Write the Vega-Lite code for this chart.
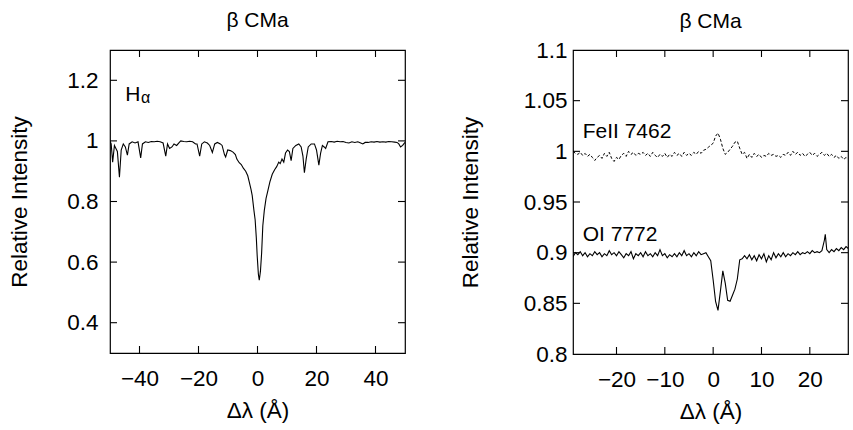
{
  "$schema": "https://vega.github.io/schema/vega-lite/v6.json",
  "padding": {"left": 8, "top": 9, "right": 0, "bottom": 0},
  "spacing": 51,
  "config": {
    "font": "Liberation Sans",
    "view": {"stroke": "#000", "strokeWidth": 1.2},
    "axis": {"domain": false, "grid": false, "ticks": false, "labelFont": "Liberation Sans", "labelFontSize": 22.5, "labelColor": "#000", "labelPadding": 12, "labelOverlap": false, "titleFont": "Liberation Sans", "titleFontSize": 22.5, "titleFontWeight": "normal", "titleColor": "#000", "format": "~r"},
    "title": {"font": "Liberation Sans", "fontSize": 21, "fontWeight": "normal", "color": "#000"},
    "rule": {"color": "#000", "strokeWidth": 1.1}
  },
  "datasets": {
    "ha": [{"x":-50,"y":1.0},{"x":-49.6,"y":0.99},{"x":-49.1,"y":0.93},{"x":-48.5,"y":0.985},{"x":-48,"y":0.975},{"x":-47.5,"y":0.965},{"x":-46.8,"y":0.88},{"x":-46.2,"y":0.97},{"x":-45.5,"y":0.99},{"x":-44.8,"y":0.98},{"x":-44.1,"y":0.953},{"x":-43.5,"y":0.99},{"x":-42.5,"y":0.997},{"x":-41.5,"y":0.993},{"x":-40.5,"y":0.997},{"x":-39.6,"y":0.944},{"x":-39,"y":0.99},{"x":-38,"y":0.997},{"x":-37,"y":0.995},{"x":-36,"y":0.998},{"x":-35,"y":0.997},{"x":-34,"y":0.999},{"x":-33,"y":0.997},{"x":-32,"y":0.993},{"x":-31.1,"y":0.95},{"x":-30.5,"y":0.99},{"x":-29.8,"y":0.975},{"x":-29,"y":0.98},{"x":-28.3,"y":0.99},{"x":-27.4,"y":0.985},{"x":-26.5,"y":0.995},{"x":-26,"y":1.0},{"x":-25,"y":0.998},{"x":-24,"y":0.997},{"x":-23,"y":0.999},{"x":-22,"y":0.997},{"x":-21,"y":0.99},{"x":-20.5,"y":0.99},{"x":-19.6,"y":0.95},{"x":-18.9,"y":0.99},{"x":-18,"y":0.997},{"x":-17,"y":0.993},{"x":-16.2,"y":0.985},{"x":-15.3,"y":0.962},{"x":-14.5,"y":0.99},{"x":-13.6,"y":0.995},{"x":-12.6,"y":0.99},{"x":-12,"y":0.985},{"x":-11.2,"y":0.955},{"x":-10.8,"y":0.947},{"x":-10.1,"y":0.97},{"x":-9.2,"y":0.968},{"x":-8.3,"y":0.963},{"x":-7.5,"y":0.955},{"x":-7,"y":0.94},{"x":-6.2,"y":0.928},{"x":-5.5,"y":0.922},{"x":-4.8,"y":0.91},{"x":-4,"y":0.9},{"x":-3.3,"y":0.885},{"x":-2.8,"y":0.865},{"x":-2.2,"y":0.84},{"x":-1.8,"y":0.82},{"x":-1.2,"y":0.77},{"x":-0.8,"y":0.74},{"x":-0.4,"y":0.68},{"x":-0.1,"y":0.62},{"x":0.3,"y":0.56},{"x":0.6,"y":0.54},{"x":1.0,"y":0.57},{"x":1.4,"y":0.63},{"x":1.8,"y":0.72},{"x":2.3,"y":0.77},{"x":2.9,"y":0.81},{"x":3.5,"y":0.835},{"x":4.2,"y":0.865},{"x":5.0,"y":0.89},{"x":5.8,"y":0.905},{"x":6.5,"y":0.915},{"x":7.2,"y":0.93},{"x":7.7,"y":0.925},{"x":8.3,"y":0.94},{"x":8.9,"y":0.93},{"x":9.5,"y":0.96},{"x":10.2,"y":0.97},{"x":10.8,"y":0.965},{"x":11.4,"y":0.935},{"x":12.0,"y":0.975},{"x":13.0,"y":0.985},{"x":14.0,"y":0.99},{"x":14.8,"y":0.98},{"x":15.4,"y":0.95},{"x":15.9,"y":0.895},{"x":16.5,"y":0.94},{"x":17.2,"y":0.98},{"x":18.2,"y":0.99},{"x":19.3,"y":0.99},{"x":20.0,"y":0.97},{"x":20.8,"y":0.92},{"x":21.4,"y":0.96},{"x":22.0,"y":0.985},{"x":22.6,"y":0.98},{"x":23.1,"y":0.975},{"x":23.9,"y":0.997},{"x":25,"y":0.998},{"x":26,"y":0.996},{"x":27,"y":0.999},{"x":28,"y":0.997},{"x":29,"y":0.998},{"x":30,"y":0.995},{"x":31,"y":0.993},{"x":32,"y":0.997},{"x":33,"y":0.995},{"x":34,"y":0.997},{"x":35,"y":0.993},{"x":35.7,"y":0.99},{"x":36.5,"y":0.995},{"x":37.5,"y":0.995},{"x":38.5,"y":0.997},{"x":39.5,"y":0.996},{"x":40.5,"y":0.998},{"x":41.5,"y":0.996},{"x":42.5,"y":0.997},{"x":43.5,"y":0.996},{"x":44.5,"y":0.998},{"x":45.5,"y":0.997},{"x":46.5,"y":0.996},{"x":47.3,"y":0.995},{"x":47.9,"y":0.99},{"x":48.5,"y":0.98},{"x":49.2,"y":0.985},{"x":50,"y":0.995}],
    "fe": [{"x":-29,"y":1.0},{"x":-28.5,"y":0.998},{"x":-28,"y":0.997},{"x":-27.5,"y":0.999},{"x":-27,"y":0.996},{"x":-26.5,"y":0.998},{"x":-26,"y":0.995},{"x":-25.5,"y":0.997},{"x":-25,"y":0.994},{"x":-24.5,"y":0.991},{"x":-24,"y":0.994},{"x":-23.5,"y":0.996},{"x":-23,"y":0.993},{"x":-22.5,"y":0.998},{"x":-22,"y":0.995},{"x":-21.5,"y":0.999},{"x":-21,"y":0.993},{"x":-20.5,"y":0.99},{"x":-20,"y":0.994},{"x":-19.5,"y":0.992},{"x":-19,"y":0.996},{"x":-18.5,"y":0.998},{"x":-18,"y":0.995},{"x":-17.5,"y":1.0},{"x":-17,"y":0.997},{"x":-16.5,"y":0.999},{"x":-16,"y":0.996},{"x":-15.5,"y":0.998},{"x":-15,"y":0.997},{"x":-14.5,"y":0.999},{"x":-14,"y":0.996},{"x":-13.5,"y":0.998},{"x":-13,"y":0.995},{"x":-12.5,"y":0.999},{"x":-12,"y":0.996},{"x":-11.5,"y":0.994},{"x":-11,"y":0.997},{"x":-10.5,"y":0.995},{"x":-10,"y":0.998},{"x":-9.5,"y":0.994},{"x":-9,"y":0.997},{"x":-8.5,"y":0.995},{"x":-8,"y":0.999},{"x":-7.5,"y":0.996},{"x":-7,"y":0.998},{"x":-6.5,"y":0.995},{"x":-6,"y":0.999},{"x":-5.5,"y":0.996},{"x":-5,"y":0.998},{"x":-4.5,"y":0.996},{"x":-4,"y":0.999},{"x":-3.5,"y":0.997},{"x":-3,"y":1.0},{"x":-2.5,"y":0.998},{"x":-2,"y":1.001},{"x":-1.5,"y":1.002},{"x":-1,"y":1.004},{"x":-0.5,"y":1.006},{"x":0,"y":1.008},{"x":0.5,"y":1.015},{"x":1,"y":1.018},{"x":1.5,"y":1.012},{"x":2,"y":1.003},{"x":2.5,"y":0.997},{"x":3,"y":0.999},{"x":3.5,"y":1.002},{"x":4,"y":1.005},{"x":4.5,"y":1.009},{"x":5,"y":1.01},{"x":5.5,"y":1.003},{"x":6,"y":0.997},{"x":6.5,"y":0.999},{"x":7,"y":0.993},{"x":7.5,"y":0.997},{"x":8,"y":0.994},{"x":8.5,"y":0.998},{"x":9,"y":0.995},{"x":9.5,"y":0.997},{"x":10,"y":0.994},{"x":10.5,"y":0.996},{"x":11,"y":0.995},{"x":11.5,"y":0.998},{"x":12,"y":0.996},{"x":12.5,"y":0.997},{"x":13,"y":0.995},{"x":13.5,"y":0.996},{"x":14,"y":0.994},{"x":14.5,"y":0.997},{"x":15,"y":0.996},{"x":15.5,"y":0.999},{"x":16,"y":0.996},{"x":16.5,"y":1.0},{"x":17,"y":0.997},{"x":17.5,"y":0.999},{"x":18,"y":0.996},{"x":18.5,"y":0.998},{"x":19,"y":0.995},{"x":19.5,"y":0.997},{"x":20,"y":0.999},{"x":20.5,"y":0.996},{"x":21,"y":0.998},{"x":21.5,"y":0.995},{"x":22,"y":0.997},{"x":22.5,"y":0.999},{"x":23,"y":0.996},{"x":23.5,"y":0.998},{"x":24,"y":0.995},{"x":24.5,"y":0.997},{"x":25,"y":0.994},{"x":25.5,"y":0.996},{"x":26,"y":0.993},{"x":26.5,"y":0.995},{"x":27,"y":0.992},{"x":27.5,"y":0.994},{"x":28,"y":0.992}],
    "oi": [{"x":-29,"y":0.896},{"x":-28.5,"y":0.9},{"x":-28,"y":0.898},{"x":-27.5,"y":0.901},{"x":-27,"y":0.897},{"x":-26.5,"y":0.9},{"x":-26,"y":0.896},{"x":-25.5,"y":0.899},{"x":-25,"y":0.897},{"x":-24.5,"y":0.901},{"x":-24,"y":0.898},{"x":-23.5,"y":0.9},{"x":-23,"y":0.896},{"x":-22.5,"y":0.899},{"x":-22,"y":0.897},{"x":-21.5,"y":0.902},{"x":-21,"y":0.898},{"x":-20.5,"y":0.9},{"x":-20,"y":0.897},{"x":-19.5,"y":0.901},{"x":-19,"y":0.898},{"x":-18.5,"y":0.895},{"x":-18,"y":0.899},{"x":-17.5,"y":0.897},{"x":-17,"y":0.901},{"x":-16.5,"y":0.894},{"x":-16,"y":0.899},{"x":-15.5,"y":0.897},{"x":-15,"y":0.9},{"x":-14.5,"y":0.896},{"x":-14,"y":0.901},{"x":-13.5,"y":0.897},{"x":-13,"y":0.899},{"x":-12.5,"y":0.896},{"x":-12,"y":0.9},{"x":-11.5,"y":0.897},{"x":-11,"y":0.903},{"x":-10.5,"y":0.897},{"x":-10,"y":0.899},{"x":-9.5,"y":0.895},{"x":-9,"y":0.898},{"x":-8.5,"y":0.896},{"x":-8,"y":0.899},{"x":-7.5,"y":0.896},{"x":-7,"y":0.9},{"x":-6.5,"y":0.897},{"x":-6,"y":0.902},{"x":-5.5,"y":0.897},{"x":-5,"y":0.899},{"x":-4.5,"y":0.896},{"x":-4,"y":0.9},{"x":-3.5,"y":0.897},{"x":-3,"y":0.901},{"x":-2.5,"y":0.898},{"x":-2,"y":0.899},{"x":-1.5,"y":0.9},{"x":-1,"y":0.896},{"x":-0.5,"y":0.892},{"x":0,"y":0.873},{"x":0.5,"y":0.852},{"x":1,"y":0.843},{"x":1.5,"y":0.862},{"x":2,"y":0.882},{"x":2.5,"y":0.87},{"x":3,"y":0.853},{"x":3.5,"y":0.852},{"x":4,"y":0.858},{"x":4.5,"y":0.864},{"x":5,"y":0.874},{"x":5.5,"y":0.893},{"x":6,"y":0.894},{"x":6.5,"y":0.897},{"x":7,"y":0.894},{"x":7.5,"y":0.898},{"x":8,"y":0.893},{"x":8.5,"y":0.897},{"x":9,"y":0.892},{"x":9.5,"y":0.898},{"x":10,"y":0.894},{"x":10.5,"y":0.899},{"x":11,"y":0.891},{"x":11.5,"y":0.897},{"x":12,"y":0.893},{"x":12.5,"y":0.9},{"x":13,"y":0.895},{"x":13.5,"y":0.899},{"x":14,"y":0.896},{"x":14.5,"y":0.9},{"x":15,"y":0.896},{"x":15.5,"y":0.899},{"x":16,"y":0.897},{"x":16.5,"y":0.9},{"x":17,"y":0.898},{"x":17.5,"y":0.901},{"x":18,"y":0.898},{"x":18.5,"y":0.9},{"x":19,"y":0.899},{"x":19.5,"y":0.901},{"x":20,"y":0.899},{"x":20.5,"y":0.902},{"x":21,"y":0.9},{"x":21.5,"y":0.901},{"x":22,"y":0.9},{"x":22.5,"y":0.902},{"x":23,"y":0.912},{"x":23.2,"y":0.918},{"x":23.5,"y":0.903},{"x":24,"y":0.9},{"x":24.5,"y":0.903},{"x":25,"y":0.901},{"x":25.5,"y":0.904},{"x":26,"y":0.902},{"x":26.5,"y":0.905},{"x":27,"y":0.903},{"x":27.5,"y":0.906},{"x":28,"y":0.904}],
    "tx1": [{"v": -40}, {"v": -20}, {"v": 0}, {"v": 20}, {"v": 40}],
    "ty1": [{"v": 0.4}, {"v": 0.6}, {"v": 0.8}, {"v": 1}, {"v": 1.2}],
    "tx2": [{"v": -20}, {"v": -10}, {"v": 0}, {"v": 10}, {"v": 20}],
    "ty2": [{"v": 0.85}, {"v": 0.9}, {"v": 0.95}, {"v": 1}, {"v": 1.05}]
  },
  "hconcat": [
    {
      "width": 295,
      "height": 303,
      "title": {"text": "β CMa", "offset": 18, "frame": "group"},
      "resolve": {"axis": {"x": "independent", "y": "independent"}},
      "layer": [
        {
          "data": {"name": "ha"},
          "mark": {"type": "line", "color": "#000", "strokeWidth": 1.1, "clip": true},
          "encoding": {
            "x": {"field": "x", "type": "quantitative", "scale": {"domain": [-50, 50], "nice": false, "zero": false}, "axis": {"values": [-40, -20, 0, 20, 40], "title": "Δλ (Å)", "labelPadding": 14, "titlePadding": 10}},
            "y": {"field": "y", "type": "quantitative", "scale": {"domain": [0.3, 1.3], "nice": false, "zero": false}, "axis": {"values": [0.4, 0.6, 0.8, 1, 1.2], "title": "Relative Intensity", "titlePadding": 35}}
          }
        },
        {
          "data": {"name": "ty1"},
          "mark": {"type": "rule"},
          "encoding": {"x": {"datum": -50, "axis": null}, "x2": {"datum": -47.63}, "y": {"field": "v", "type": "quantitative", "axis": null}}
        },
        {
          "data": {"name": "ty1"},
          "mark": {"type": "rule"},
          "encoding": {"x": {"datum": 50, "axis": null}, "x2": {"datum": 47.63}, "y": {"field": "v", "type": "quantitative", "axis": null}}
        },
        {
          "data": {"name": "tx1"},
          "mark": {"type": "rule"},
          "encoding": {"y": {"datum": 0.3, "axis": null}, "y2": {"datum": 0.3231}, "x": {"field": "v", "type": "quantitative", "axis": null}}
        },
        {
          "data": {"name": "tx1"},
          "mark": {"type": "rule"},
          "encoding": {"y": {"datum": 1.3, "axis": null}, "y2": {"datum": 1.2769}, "x": {"field": "v", "type": "quantitative", "axis": null}}
        },
        {
          "data": {"values": [{"x": -44.8, "y": 1.133, "t": "H"}]},
          "mark": {"type": "text", "align": "left", "baseline": "alphabetic", "fontSize": 21, "color": "#000"},
          "encoding": {
            "x": {"field": "x", "type": "quantitative", "axis": null},
            "y": {"field": "y", "type": "quantitative", "axis": null},
            "text": {"field": "t"}
          }
        },
        {
          "data": {"values": [{"x": -39.5, "y": 1.124, "t": "α"}]},
          "mark": {"type": "text", "align": "left", "baseline": "alphabetic", "fontSize": 16, "color": "#000"},
          "encoding": {
            "x": {"field": "x", "type": "quantitative", "axis": null},
            "y": {"field": "y", "type": "quantitative", "axis": null},
            "text": {"field": "t"}
          }
        }
      ]
    },
    {
      "width": 275,
      "height": 304,
      "title": {"text": "β CMa", "offset": 7, "frame": "group"},
      "resolve": {"axis": {"x": "independent", "y": "independent"}},
      "layer": [
        {
          "data": {"name": "fe"},
          "mark": {"type": "line", "color": "#000", "strokeWidth": 1, "strokeDash": [3, 2], "clip": true},
          "encoding": {
            "x": {"field": "x", "type": "quantitative", "scale": {"domain": [-29, 27.9], "nice": false, "zero": false}, "axis": {"values": [-20, -10, 0, 10, 20], "title": "Δλ (Å)", "labelPadding": 14, "titlePadding": 10}},
            "y": {"field": "y", "type": "quantitative", "scale": {"domain": [0.8, 1.1], "nice": false, "zero": false}, "axis": {"values": [0.8, 0.85, 0.9, 0.95, 1, 1.05, 1.1], "title": "Relative Intensity", "titlePadding": 41, "labelPadding": 6}}
          }
        },
        {
          "data": {"name": "oi"},
          "mark": {"type": "line", "color": "#000", "strokeWidth": 1.1, "clip": true},
          "encoding": {
            "x": {"field": "x", "type": "quantitative", "axis": null},
            "y": {"field": "y", "type": "quantitative", "axis": null}
          }
        },
        {
          "data": {"name": "ty2"},
          "mark": {"type": "rule"},
          "encoding": {"x": {"datum": -29, "axis": null}, "x2": {"datum": -27.55}, "y": {"field": "v", "type": "quantitative", "axis": null}}
        },
        {
          "data": {"name": "ty2"},
          "mark": {"type": "rule"},
          "encoding": {"x": {"datum": 27.9, "axis": null}, "x2": {"datum": 26.45}, "y": {"field": "v", "type": "quantitative", "axis": null}}
        },
        {
          "data": {"name": "tx2"},
          "mark": {"type": "rule"},
          "encoding": {"y": {"datum": 0.8, "axis": null}, "y2": {"datum": 0.8069}, "x": {"field": "v", "type": "quantitative", "axis": null}}
        },
        {
          "data": {"name": "tx2"},
          "mark": {"type": "rule"},
          "encoding": {"y": {"datum": 1.1, "axis": null}, "y2": {"datum": 1.0931}, "x": {"field": "v", "type": "quantitative", "axis": null}}
        },
        {
          "data": {"values": [{"x": -27, "y": 1.0129, "t": "FeII 7462"}, {"x": -27, "y": 0.9118, "t": "OI 7772"}]},
          "mark": {"type": "text", "align": "left", "baseline": "alphabetic", "fontSize": 21, "color": "#000"},
          "encoding": {
            "x": {"field": "x", "type": "quantitative", "axis": null},
            "y": {"field": "y", "type": "quantitative", "axis": null},
            "text": {"field": "t"}
          }
        }
      ]
    }
  ]
}
